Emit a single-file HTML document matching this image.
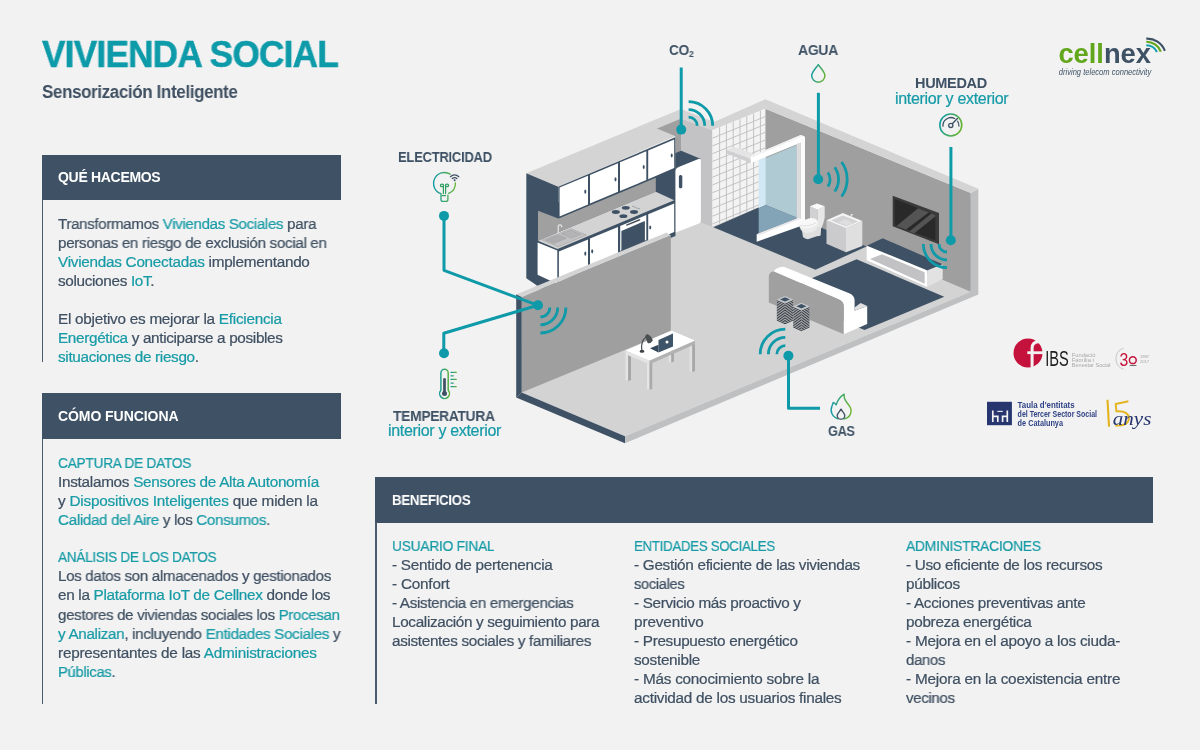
<!DOCTYPE html>
<html lang="es"><head><meta charset="utf-8"><title>Vivienda Social - Sensorización Inteligente</title>
<style>
html,body{margin:0;padding:0}
body{width:1200px;height:750px;overflow:hidden;background:#f2f2f2;position:relative;font-family:"Liberation Sans",sans-serif;color:#3f5062}
.ln{position:absolute;white-space:pre;margin:0;transform-origin:0 0;will-change:transform}
svg{will-change:transform}
.b{font-weight:700} .r{font-weight:400;-webkit-text-stroke:0.22px}
.t{color:#179ba6} .T{color:#0d9aa9;-webkit-text-stroke:0.5px} .w{color:#fff} .d2{color:#3f5265} .t2{color:#169ba7}
.sub{font-size:9.6px;position:relative;top:2.1px}
.hd{position:absolute;background:#3f5265}
.bar{position:absolute;background:#4b5b6b;width:1.7px}
</style></head><body>
<div class="hd" style="left:41.5px;top:154.5px;width:299.7px;height:45.9px"></div>
<div class="bar" style="left:41.5px;top:200px;height:161.5px"></div>
<div class="hd" style="left:41.5px;top:393.2px;width:299.7px;height:46.1px"></div>
<div class="bar" style="left:41.5px;top:439px;height:264.6px"></div>
<div class="hd" style="left:375.4px;top:476.5px;width:777.8px;height:46.3px"></div>
<div class="bar" style="left:375.4px;top:522px;height:181.5px"></div>
<svg id="art" width="1200" height="750" viewBox="0 0 1200 750" style="position:absolute;left:0;top:0">
<defs>
  <linearGradient id="gtg" x1="0" y1="0" x2="1" y2="0"><stop offset="0" stop-color="#0f9aa9"/><stop offset="1" stop-color="#6ab42d"/></linearGradient>
  <linearGradient id="gtgv" x1="0" y1="0" x2="1" y2="1"><stop offset="0" stop-color="#0f9aa9"/><stop offset="1" stop-color="#6ab42d"/></linearGradient>
  <clipPath id="tilec"><polygon points="712.3,130.3 765.3,108.7 765.3,204.5 712.3,226.5"/></clipPath>
</defs>

<!-- ===== FLOOR ===== -->
<g id="floor">
  <polygon points="521.7,392.5 625,436.3 970.8,291.7 970.8,200 765,110 670,150 521.7,300" fill="#d3d3d3"/>
  <polygon points="516.2,397.5 625,443.3 625,436.3 521.7,392.5" fill="#3f5265"/>
  <polygon points="625,436.3 625,443.3 978.3,294.4 978.3,288.6" fill="#bfc0c2"/>
</g>

<!-- ===== RIGHT BACK WALL ===== -->
<g id="rwall">
  <polygon points="765.3,108.7 970.8,193 970.8,291.7 765.3,204.5" fill="#9f9f9f"/>
  <polygon points="970.8,193 978.3,188.7 978.3,288.8 970.8,291.9" fill="#bfc0c2"/>
</g>

<!-- ===== WALL TOPS (light) ===== -->
<polygon id="walltop" fill="#d4d4d4" points="526.3,173.3 681.2,108.9 714,122 765.3,99.2 978.3,188.7 970.8,193 765.3,108.7 712.3,130.3 681.2,118.5 656.8,128.6 675.3,136.3 558.3,186.7"/>

<!-- column + kitchen inner wall -->
<polygon points="656.8,128.6 681.2,118.5 681.2,170 675.3,170 675.3,136.3" fill="#a0a0a0"/>
<polygon points="681.2,118.5 712.3,130.3 712.3,226.8 700.8,222.6 681.2,226" fill="#c3c3c5"/>

<!-- tiled wall -->
<g id="tiles">
  <polygon points="712.3,130.3 765.3,108.7 765.3,204.5 712.3,226.5" fill="#f3f3f3"/>
  <g clip-path="url(#tilec)" stroke="#c2c2c4" stroke-width="1" fill="none">
    <path d="M719.6,100V240M726.4,100V240M733.2,100V240M740.0,100V240M746.8,100V240M753.6,100V240M760.4,100V240"/>
    <g transform="translate(712.3,130.4) skewY(-22.2)">
      <path d="M0,7.8H60M0,15.6H60M0,23.4H60M0,31.2H60M0,39.0H60M0,46.8H60M0,54.6H60M0,62.4H60M0,70.2H60M0,78.0H60M0,85.8H60M0,93.6H60"/>
    </g>
  </g>
</g>

<!-- ===== KITCHEN ===== -->
<g id="kitchen">
  <!-- dark end wall -->
  <polygon points="526.3,173.3 558.3,186.7 558.3,300 526.3,278.3" fill="#3f5265"/>
  <!-- dark area behind (between uppers and fridge) -->
  <polygon points="538,210.8 675.5,153 675.5,236 538,290" fill="#3f5265"/>
  <!-- backsplash -->
  <polygon points="538,210.8 558.3,218.6 655.8,177.8 655.8,191.7 538,240.8" fill="#a0a0a0"/>
  <!-- counter -->
  <polygon points="538,240.8 557.5,249 674.2,200.2 655.8,191.7" fill="#d3d3d3"/>
  <!-- base side -->
  <polygon points="537.6,242.6 557.3,250.6 557.3,284 537.6,274.8" fill="#ffffff"/>
  <!-- base fronts -->
  <polygon points="558.9,251.6 588,239.4 588,268 558.9,282" fill="#ffffff"/>
  <polygon points="590,238.6 618,226.9 618,256 590,268" fill="#ffffff"/>
  <polygon points="620.2,226 646.3,215.1 646.3,240 620.2,251" fill="#ffffff"/>
  <polygon points="621.4,230.9 644.9,220.9 644.9,241 621.4,251.2" fill="#3f5265"/>
  <path d="M626.9,225L639.5,219.8" stroke="#d9d9d9" stroke-width="2.2" stroke-linecap="round"/>
  <path d="M626.9,225L639.5,219.8" stroke="#3c4650" stroke-width="1.3" stroke-linecap="round"/>
  <polygon points="648.2,214.3 674.2,203.4 674.2,232 648.2,243" fill="#ffffff"/>
  <!-- uppers -->
  <polygon points="558.3,186.7 675.3,137.3 675.3,167.8 558.3,218.6" fill="#3f5265"/>
  <polygon points="559.6,187.6 588,175.7 588,204.4 559.6,216.5" fill="#ffffff"/>
  <polygon points="590,174.9 618,163.2 618,191.8 590,203.6" fill="#ffffff"/>
  <polygon points="620,162.3 646.3,151.3 646.3,180 620,191" fill="#ffffff"/>
  <polygon points="648.2,150.5 674.2,139.6 674.2,168 648.2,179.2" fill="#ffffff"/>
  <g fill="#3f5265">
    <ellipse cx="585.3" cy="191.7" rx="1" ry="2.1"/><ellipse cx="615.5" cy="179.3" rx="1" ry="2.1"/>
    <ellipse cx="643.7" cy="167" rx="1" ry="2.1"/><ellipse cx="671.7" cy="155.5" rx="1" ry="2.1"/>
    <ellipse cx="585.3" cy="253.7" rx="1" ry="2.1"/><ellipse cx="592.2" cy="251.3" rx="1" ry="2.1"/>
    <ellipse cx="650.2" cy="227.5" rx="1" ry="2.1"/>
    <!-- hob -->
    <ellipse cx="615.8" cy="212" rx="4" ry="1.9"/><ellipse cx="625.8" cy="207.8" rx="4" ry="1.9"/>
    <ellipse cx="623.4" cy="216.2" rx="4" ry="1.9"/><ellipse cx="634" cy="212" rx="4" ry="1.9"/>
    <circle cx="633" cy="206.3" r=".5"/><circle cx="635" cy="207.1" r=".5"/><circle cx="637" cy="207.9" r=".5"/><circle cx="639" cy="208.7" r=".5"/>
  </g>
  <!-- sink -->
  <polygon points="542.5,240 571.3,228.8 586.3,235 558.1,246.9" fill="#c2c2c4" stroke="#9a9a9c" stroke-width=".5"/>
  <polygon points="545.6,240.1 558.6,234.9 566.4,238.2 553.6,243.6" fill="#adadaf" stroke="#98989a" stroke-width=".4"/>
  <polygon points="561.5,233.9 570.8,230.3 580.6,234.3 571.2,238.2" fill="#b4b4b6" stroke="#98989a" stroke-width=".4"/>
  <path d="M558.2,233.4V226.8Q558.2,224.7 560,224.7Q561.8,224.7 561.8,227.3" fill="none" stroke="#ececec" stroke-width="1.1"/>
  <!-- fridge -->
  <polygon points="675.6,153 681.2,150.8 701,159 675.6,170" fill="#3f5265"/>
  <path d="M675.6,171Q675.6,168.3 678,167.3L697.8,159.2Q700.9,158 700.9,161V220.8Q700.9,222.8 699,223.6L675.8,232.4Z" fill="#ffffff"/>
  <rect x="678.9" y="175" width="3.4" height="13.2" rx="1.5" fill="#3f5265"/>
</g>

<!-- ===== BATHROOM / BEDROOM ===== -->
<g id="rooms">
  <polygon points="713.3,227.3 765.3,204.5 866.5,246.5 815.5,269.7" fill="#3f5265"/>
  <polygon points="856.6,259.3 944.2,296.7 864.5,330 777,293" fill="#3f5265"/>
</g>

<!-- shower -->
<g id="shower">
  <polygon points="758.7,159.5 765.8,156.6 765.8,205 758.7,208.3" fill="#d2e9f5"/>
  <polygon points="765.8,158 796.8,145 796.8,217.6 765.8,205" fill="#afcad3"/>
  <polygon points="758.7,208.3 765.8,205 796.8,217.6 796.8,218.4 758.7,233.6" fill="#83a3b6"/>
  <!-- back bar -->
  <polygon points="726.7,150 734.2,146.7 757,155 750.8,158.9" fill="#e4e4e4"/>
  <polygon points="726.7,150 750.8,158.9 750.8,163 726.7,153.6" fill="#cfcfd1"/>
  <!-- front bar -->
  <polygon points="750.8,156.2 800.8,135 805,136.8 805,141 750.8,163" fill="#ffffff"/>
  <polygon points="750.8,156.2 800.8,135 803,135.9 752.5,157.3" fill="#f1f1f1"/>
  <!-- post -->
  <polygon points="796.7,144 800.8,142.4 800.8,221.8 796.7,219.4" fill="#dcdcdc"/>
  <polygon points="800.8,137 805,138.6 805,223.6 800.8,221.8" fill="#fbfbfb"/>
  <!-- base -->
  <polygon points="756.7,234.3 798.3,218 805,221 805,224.6 756.7,241.8" fill="#ffffff"/>
  <polygon points="756.7,234.3 798.3,218 800.4,219 758.4,235.6" fill="#e9e9e9"/>
</g>

<!-- toilet -->
<g id="toilet">
  <polygon points="810,206.3 817.7,209.8 817.7,227 810,222.5" fill="#d1d1d3"/>
  <path d="M817.7,209.8L824.7,206.3V217.5Q823.6,224 821,228.7L820.6,235.4L817.7,236.2Z" fill="#e6e6e6"/>
  <polygon points="810,206.3 817,203.4 824.7,206.3 817.7,209.8" fill="#fbfbfb"/>
  <path d="M801.8,229.5L803,237Q805,239.4 808.7,239.1L819.8,235.2L820.6,227Z" fill="#dfdfdf"/>
  <path d="M799.1,224Q799.4,231.6 806,232.9Q815,233.2 818.6,226L818,221.5Z" fill="#ebebeb"/>
  <path d="M799.1,223.6Q798.8,221.8 802,220.8L810.5,218Q814.5,217.6 817,220Q819,222.6 816,225Q809,229.6 802.5,228Q799.4,226.5 799.1,223.6Z" fill="#f8f8f8"/>
  <path d="M800.3,225.4Q808,227.4 816.4,222.6" stroke="#cdcdcd" stroke-width=".6" fill="none"/>
</g>

<!-- sink cabinet -->
<g id="sinkcab">
  <polygon points="826.5,220.2 846,228.2 846,252.2 826.5,243.8" fill="#cbcbcd"/>
  <polygon points="846,228.2 862.3,220.9 862.3,245.9 846,252.2" fill="#dfdfdf"/>
  <polygon points="826.5,220.2 842.8,212.9 862.3,220.9 846,228.2" fill="#f3f3f3"/>
  <polygon points="831,220.6 842.8,215.4 858.1,221.4 846,226.5" fill="#d2d2d4"/>
  <polygon points="838.7,222.3 844.9,219.2 853.3,222.7 846.7,225.8" fill="#dedede"/>
  <path d="M851.2,216.8V215.2Q851.6,214.2 853,214.7" stroke="#f4f4f4" stroke-width="1.1" fill="none"/>
</g>

<!-- TV -->
<g id="tv">
  <polygon points="892.7,195.7 939,213 939,244.3 892.7,226.3" fill="#3a3a3a"/>
  <polygon points="894.7,199 935.3,215 935.3,240.3 894.7,225" fill="#292929"/>
  <polygon points="918,208.3 928.7,212.4 906,229.4 896.7,226" fill="#545454"/>
  <polygon points="931.3,213.5 935.3,215 935.3,216.5 914,233.4 909.3,231.6" fill="#545454"/>
</g>

<!-- TV bench -->
<g id="bench">
  <polygon points="866.7,245.7 882.7,238.3 942.7,264.3 927.3,270.5" fill="#3f5265"/>
  <polygon points="866.7,245.7 927.3,270.5 927.3,287 866.7,260.3" fill="#ffffff"/>
  <polygon points="870,259 882,254.3 924.7,272.3 924.7,283.7" fill="#c2c2c4"/>
  <polygon points="927.3,270.5 942.7,264.3 942.7,279 927.3,287" fill="#e2e2e2"/>
</g>

<!-- bed -->
<g id="bed">
  <path d="M768.8,277Q768.8,272 773.6,271.2L839,299.4Q843.8,301.5 843.8,306.4V334.2L768.8,302.4Z" fill="#a0a0a0"/>
  <path d="M773.6,271.2Q777,267 783.8,266.8L849.8,293.4Q854.6,295.6 854.6,300.6V310.8L867.2,306V324L843.8,334.2V306.4Q843.8,301.5 839,299.4Z" fill="#ffffff"/>
  <polygon points="854.6,307.6 860.6,303 867.2,306 854.6,310.8" fill="#e0e0e0"/>
</g>

<!-- stacks -->
<g id="stacks">
  <g>
    <polygon points="776.8,299.4 785,303.2 793.1,299.4 793.1,321.2 785,324.9 776.8,321.2" fill="#d4d6d9"/>
    <path d="M776.8,300.60l8.2,3.7 8.1,-3.7M776.8,302.22l8.2,3.7 8.1,-3.7M776.8,303.84l8.2,3.7 8.1,-3.7M776.8,305.46l8.2,3.7 8.1,-3.7M776.8,307.08l8.2,3.7 8.1,-3.7M776.8,308.70l8.2,3.7 8.1,-3.7M776.8,310.32l8.2,3.7 8.1,-3.7M776.8,311.94l8.2,3.7 8.1,-3.7M776.8,313.56l8.2,3.7 8.1,-3.7M776.8,315.18l8.2,3.7 8.1,-3.7M776.8,316.80l8.2,3.7 8.1,-3.7M776.8,318.42l8.2,3.7 8.1,-3.7M776.8,320.04l8.2,3.7 8.1,-3.7" stroke="#2c3238" stroke-width=".95" fill="none"/>
    <polygon points="776.8,299.4 785,295.9 793.1,299.4 785,303" fill="#c4c8cd"/>
    <polygon points="780,299.4 785,297.2 790,299.4 785,301.6" fill="#3f5265"/>
  </g>
  <g transform="translate(16.4,6.9)">
    <polygon points="776.8,299.4 785,303.2 793.1,299.4 793.1,321.2 785,324.9 776.8,321.2" fill="#d4d6d9"/>
    <path d="M776.8,300.60l8.2,3.7 8.1,-3.7M776.8,302.22l8.2,3.7 8.1,-3.7M776.8,303.84l8.2,3.7 8.1,-3.7M776.8,305.46l8.2,3.7 8.1,-3.7M776.8,307.08l8.2,3.7 8.1,-3.7M776.8,308.70l8.2,3.7 8.1,-3.7M776.8,310.32l8.2,3.7 8.1,-3.7M776.8,311.94l8.2,3.7 8.1,-3.7M776.8,313.56l8.2,3.7 8.1,-3.7M776.8,315.18l8.2,3.7 8.1,-3.7M776.8,316.80l8.2,3.7 8.1,-3.7M776.8,318.42l8.2,3.7 8.1,-3.7M776.8,320.04l8.2,3.7 8.1,-3.7" stroke="#2c3238" stroke-width=".95" fill="none"/>
    <polygon points="776.8,299.4 785,295.9 793.1,299.4 785,303" fill="#c4c8cd"/>
    <polygon points="780,299.4 785,297.2 790,299.4 785,301.6" fill="#3f5265"/>
  </g>
</g>

<!-- ===== PARTITION WALL ===== -->
<g id="pwall">
  <polygon points="521.7,296.9 670.8,235.4 670.8,331 521.7,392.5" fill="#9f9f9f"/>
  <polygon points="516.7,294.2 666.7,232.4 670.8,235.4 521.7,296.9" fill="#d4d4d4"/>
  <polygon points="516.2,294.2 521.7,296.9 521.7,392.5 516.2,397.5" fill="#3f5265"/>
</g>

<!-- table -->
<g id="table">
  <polygon points="668.5,336 671.2,337.2 671.2,362.5 668.5,361.8" fill="#e2e2e2"/><polygon points="671.2,337.2 674,336 674,361.6 671.2,362.5" fill="#a9a9a9"/>
  <polygon points="625.5,352 628.1,353 628.1,381 625.5,380" fill="#e3e3e3"/><polygon points="628.1,353 631,352 631,380 628.1,381" fill="#a6a6a6"/>
  <polygon points="689.5,342 692.2,343 692.2,372.2 689.5,371.2" fill="#e0e0e0"/><polygon points="692.2,343 695,341.6 695,371 692.2,372.2" fill="#a8a8a8"/>
  <polygon points="647,361 649.5,362 649.5,390 647,389" fill="#e5e5e5"/><polygon points="649.5,362 652.2,361 652.2,389 649.5,390" fill="#aaaaaa"/>
  <polygon points="625.5,350.5 649.5,360.5 649.5,364.2 625.5,354.2" fill="#e4e4e4"/>
  <polygon points="649.5,360.5 695,340.5 695,344.2 649.5,364.2" fill="#b2b2b2"/>
  <polygon points="625.5,350.5 671.5,330.5 695,340.5 649.5,360.5" fill="#ffffff"/>
  <!-- laptop -->
  <polygon points="650,348.3 658.5,344.8 658.5,352.5" fill="#34485b"/>
  <polygon points="658.5,340 673,333.5 673,346.5 658.5,352.5" fill="#3e5468"/>
  <circle cx="667" cy="342" r="1.5" fill="#ffffff"/>
  <!-- lamp -->
  <ellipse cx="642" cy="351.3" rx="2.4" ry="1.5" fill="#3c4144"/>
  <path d="M641.8,350.5Q640.6,340 646.5,337" stroke="#4a4f52" stroke-width="1.2" fill="none"/>
  <path d="M645,336L647.2,334Q652,336 652.8,340.5Q650,344.5 647.5,342.8Z" fill="#4a4f52"/>
</g>

<!-- ===== SENSORS ===== -->
<g id="sensors" stroke="#0e9aa8" fill="none" stroke-width="3" stroke-linejoin="round">
  <!-- CO2 -->
  <path d="M681.2,67.5V129.6"/>
  <g stroke-width="2.8"><path d="M688.6,117.1A8.6,8.6 0 0 1 697.2,125.7"/><path d="M688.6,109.6A16.1,16.1 0 0 1 704.7,125.7"/><path d="M688.6,101.6A24.1,24.1 0 0 1 712.7,125.7"/></g>
  <!-- AGUA -->
  <path d="M818.4,92.8V179.2"/>
  <g stroke-width="2.8"><path d="M827.8,172.5A12,12 0 0 1 827.8,186.5"/><path d="M834.7,167.3A21,21 0 0 1 834.7,191.5"/><path d="M841.6,162A29.5,29.5 0 0 1 841.6,196.5"/></g>
  <!-- HUMEDAD -->
  <path d="M950.9,147V240.3"/>
  <g stroke-width="2.8"><path d="M939,244A8,8 0 0 0 947,252"/><path d="M931,244A16,16 0 0 0 947,260"/><path d="M923.3,244A23.7,23.7 0 0 0 947,267.7"/></g>
  <!-- GAS -->
  <path d="M788.5,355.8V408.3H820"/>
  <g stroke-width="2.8"><path d="M776.8,354.2A8.5,8.5 0 0 1 785.3,345.7"/><path d="M768.4,354.2A16.9,16.9 0 0 1 785.3,337.3"/><path d="M760.2,354.2A25.1,25.1 0 0 1 785.3,329.1"/></g>
  <!-- ELEC / TEMP -->
  <path d="M444,216V270.3L538,305.3L443.8,333.3V353.3"/>
  <g stroke-width="2.8"><path d="M549.8,307.5A9.4,9.4 0 0 1 540.4,316.9"/><path d="M557.7,307.5A17.3,17.3 0 0 1 540.4,324.8"/><path d="M565.9,307.5A25.5,25.5 0 0 1 540.4,333"/></g>
  <g fill="#0e9aa8" stroke="none">
    <circle cx="681.2" cy="129.6" r="5"/><circle cx="818.2" cy="179.2" r="5"/><circle cx="950.8" cy="240.3" r="5"/>
    <circle cx="788.4" cy="355.8" r="5"/><circle cx="538" cy="305.3" r="5"/><circle cx="444" cy="215.9" r="5"/><circle cx="444" cy="353.3" r="5"/>
  </g>
</g>
</svg>

<svg id="icons" width="1200" height="750" viewBox="0 0 1200 750" style="position:absolute;left:0;top:0">
<defs>
  <linearGradient id="g1" gradientUnits="userSpaceOnUse" x1="433" y1="0" x2="457" y2="0"><stop offset="0" stop-color="#0f9aa9"/><stop offset="1" stop-color="#6ab42d"/></linearGradient>
  <linearGradient id="g2" gradientUnits="userSpaceOnUse" x1="438" y1="0" x2="451" y2="0"><stop offset="0" stop-color="#0f9aa9"/><stop offset="1" stop-color="#6ab42d"/></linearGradient>
  <linearGradient id="g2t" gradientUnits="userSpaceOnUse" x1="450" y1="0" x2="457" y2="0"><stop offset="0" stop-color="#0f9aa9"/><stop offset="1" stop-color="#6ab42d"/></linearGradient>
  <linearGradient id="g3" gradientUnits="userSpaceOnUse" x1="811" y1="72" x2="826" y2="76"><stop offset="0" stop-color="#0f9aa9"/><stop offset="1" stop-color="#6ab42d"/></linearGradient>
  <linearGradient id="g4" gradientUnits="userSpaceOnUse" x1="939" y1="120" x2="962" y2="128"><stop offset="0" stop-color="#0f9aa9"/><stop offset="1" stop-color="#6ab42d"/></linearGradient>
  <linearGradient id="g5" gradientUnits="userSpaceOnUse" x1="831" y1="0" x2="851" y2="0"><stop offset="0" stop-color="#0f9aa9"/><stop offset="1" stop-color="#6ab42d"/></linearGradient>
</defs>
<!-- bulb -->
<g fill="none" stroke-linecap="round" stroke-linejoin="round">
  <path d="M450.22,174.12A10.9,10.9 0 1 0 441,193.72V199.4Q441,201.4 443,201.4H445.9Q447.9,201.4 447.9,199.4V195.2" stroke="url(#g1)" stroke-width="1.35"/>
  <path d="M455.39,182.9A10.9,10.9 0 0 1 448.7,193.46" stroke="url(#g1)" stroke-width="1.35"/>
  <path d="M442.2,195.6H445.6" stroke="#2f9f60" stroke-width="1.1"/>
  <path d="M443.4,193.6V185.6M445.6,193.6V185.6" stroke="#2f9f60" stroke-width="1.2"/>
  <ellipse cx="442" cy="185.4" rx="1.6" ry="1.3" stroke="#2f9f60" stroke-width="1.2"/><ellipse cx="447" cy="185.4" rx="1.6" ry="1.3" stroke="#2f9f60" stroke-width="1.2"/>
  <path d="M452.3,178.5A3.2,3.2 0 0 1 456.9,178.5M450.4,176.7A5.9,5.9 0 0 1 458.8,176.7" stroke="#3f5265" stroke-width="1.25"/>
  <circle cx="454.6" cy="180.3" r="1" fill="#3f5265"/>
</g>
<!-- thermometer -->
<g fill="none" stroke-linecap="round">
  <path d="M440.9,390.33V372.9A3.65,3.65 0 0 1 448.2,372.9V390.33A4.9,4.9 0 1 1 440.9,390.33Z" stroke="url(#g2)" stroke-width="1.5"/>
  <path d="M444.5,379.3V393.3" stroke="#3f5265" stroke-width="2.7"/>
  <circle cx="444.5" cy="393.4" r="2.5" fill="#3f5265"/>
  <path d="M451,372.4H456.3M451,375.8H453.3M451,379.4H456.3M451,383H453.3M451,386.5H456.3" stroke="url(#g2t)" stroke-width="1.25"/>
</g>
<!-- drop -->
<path d="M818.3,64.6C816.2,67.8 811.7,72.2 811.7,75.6A6.6,6.6 0 0 0 824.9,75.6C824.9,72.2 820.4,67.8 818.3,64.6Z" fill="none" stroke="url(#g3)" stroke-width="1.5" stroke-linejoin="round"/>
<!-- gauge -->
<g fill="none" stroke-linecap="round">
  <circle cx="950.8" cy="125" r="10.95" stroke="url(#g4)" stroke-width="1.6"/>
  <path d="M942.95,126.2A8,8 0 0 1 954.66,118.54M957.61,121.24A8,8 0 0 1 958.89,126" stroke="#3f5265" stroke-width="1.3"/>
  <circle cx="950.8" cy="125.4" r="2.1" stroke="#3f5265" stroke-width="1.3"/>
  <path d="M952.3,123.8L957.4,118.5" stroke="#3f5265" stroke-width="1.4"/>
</g>
<!-- flame -->
<g fill="none" stroke-linejoin="round">
  <path d="M838.5,419C832,417.5 829.8,411 832,406C832.6,404.3 833.2,403 833.2,402.4C834.6,403 835.6,403.8 836.2,404.8C837.5,400.5 840.5,396.5 844.2,394.2C843.6,398 844.8,400 847,402.8C850,406.5 852,409 850.8,413C849.8,416.5 846.5,418.6 843.4,419" stroke="url(#g5)" stroke-width="1.4"/>
  <path d="M841,409.2C840,411 837.2,413.6 837.2,415.4A3.8,3.8 0 0 0 844.8,415.4C844.8,413.6 842,411 841,409.2Z" stroke="#3f5265" stroke-width="1.35"/>
</g>

<!-- cellnex -->
<g>
  <text x="1058.4" y="63.2" font-family="Liberation Sans, sans-serif" font-weight="700" font-size="27.5" textLength="92.6" lengthAdjust="spacingAndGlyphs"><tspan fill="#62a61c">cell</tspan><tspan fill="#3f5265">nex</tspan></text>
  <text x="1058.8" y="74.6" font-family="Liberation Sans, sans-serif" font-style="italic" font-size="8.6" fill="#3f5265" textLength="92.4" lengthAdjust="spacingAndGlyphs">driving telecom connectivity</text>
  <g fill="none" stroke-width="2.1">
    <path d="M1146.3,38.6A18.8,18.8 0 0 1 1164.8,50.8" stroke="#3f5265"/>
    <path d="M1146.3,41.8A15.4,15.4 0 0 1 1160.8,51.7" stroke="#62a61c"/>
    <path d="M1146.3,45.2A12,12 0 0 1 1157,52" stroke="#16a0ae"/>
  </g>
</g>
<!-- FIBS -->
<g>
  <circle cx="1028" cy="353" r="14.5" fill="#c5123c"/>
  <path d="M1032.1,367.8V348Q1032.2,342.4 1038,341.8L1040,341.2" fill="none" stroke="#f2f2f2" stroke-width="3"/>
  <path d="M1027.3,352.7H1043" stroke="#f2f2f2" stroke-width="2.8"/>
  <text x="1045.2" y="366.4" font-family="Liberation Sans, sans-serif" font-size="22" fill="#1d1d1d" textLength="23.6" lengthAdjust="spacingAndGlyphs">IBS</text>
  <g font-family="Liberation Sans, sans-serif" font-size="5.1" fill="#a8a8a8">
    <text x="1071.8" y="356.5" textLength="23.6" lengthAdjust="spacingAndGlyphs">Fundació</text>
    <text x="1071.8" y="361.8" textLength="22" lengthAdjust="spacingAndGlyphs">Família i</text>
    <text x="1071.8" y="367.1" textLength="38.8" lengthAdjust="spacingAndGlyphs">Benestar Social</text>
  </g>
  <path d="M1123.5,348.3A11,11 0 0 0 1123.5,369.2" fill="none" stroke="#b5b5b5" stroke-width=".7"/>
  <text x="1119.6" y="365.6" font-family="Liberation Sans, sans-serif" font-size="18.6" fill="#c5123c" textLength="8.8" lengthAdjust="spacingAndGlyphs">3</text>
  <circle cx="1132.8" cy="360.2" r="3.4" fill="none" stroke="#c5123c" stroke-width="1.5"/>
  <g font-family="Liberation Sans, sans-serif" font-size="4.1" fill="#a2a2a2"><text x="1140" y="358.3" textLength="9" lengthAdjust="spacingAndGlyphs">1987</text><text x="1140" y="363.1" textLength="9" lengthAdjust="spacingAndGlyphs">2017</text></g>
  <rect x="1129.8" y="365.1" width="6.6" height=".9" fill="#333" opacity=".8"/>
</g>
<!-- Taula -->
<g>
  <rect x="987" y="401.8" width="24.9" height="23.4" fill="#27366f"/>
  <path d="M992.8,410.6V422M1007.3,410.6V422M992.8,416.4H998.7M1001.7,416.4H1007.3M997.8,415.6V422M1002.6,415.6V422" stroke="#f2f2f2" stroke-width="1.7" fill="none"/>
  <path d="M997.3,411.4H1002.8" stroke="#f2f2f2" stroke-width="1.1"/>
  <g font-family="Liberation Sans, sans-serif" font-weight="700" font-size="8.3" fill="#2f4286">
    <text x="1017.6" y="407.5" textLength="57" lengthAdjust="spacingAndGlyphs">Taula d'entitats</text>
    <text x="1017.6" y="416.8" textLength="79.4" lengthAdjust="spacingAndGlyphs">del Tercer Sector Social</text>
    <text x="1017.6" y="425.9" textLength="45.4" lengthAdjust="spacingAndGlyphs">de Catalunya</text>
  </g>
  <path d="M1107.5,399.8L1109,426.7" stroke="#e4b41f" stroke-width="2.1"/>
  <path d="M1128.4,401.3L1115.7,404L1116.4,411.3Q1128.4,410.6 1128.9,418Q1128.6,426.4 1115.3,425.6" fill="none" stroke="#e4b41f" stroke-width="1.9" stroke-linejoin="round"/>
  <text x="1112.8" y="425" font-family="Liberation Serif, serif" font-style="italic" font-size="18.5" fill="#27366f" textLength="38.6" lengthAdjust="spacingAndGlyphs">anys</text>
</g>
</svg>

<div class='ln b' style='left:42.0px;top:33.12px;font-size:36.6px;line-height:44px;letter-spacing:-0.805px;transform:scaleX(0.962)'><span class='T'>VIVIENDA SOCIAL</span></div>
<div class='ln b' style='left:42.0px;top:81.94px;font-size:17.5px;line-height:21px;letter-spacing:-0.385px;transform:scaleX(0.9707)'>Sensorización Inteligente</div>
<div class='ln b' style='left:58.2px;top:168.45px;font-size:14px;line-height:19px;letter-spacing:-0.308px;transform:scaleX(0.996)'><span class='w'>QUÉ HACEMOS</span></div>
<div class='ln r' style='left:58.2px;top:214.05px;font-size:15.3px;line-height:19px;letter-spacing:-0.337px;transform:scaleX(0.9873)'>Transformamos <span class='t'>Viviendas Sociales</span> para</div>
<div class='ln r' style='left:58.2px;top:233.10px;font-size:15.3px;line-height:19px;letter-spacing:-0.337px;transform:scaleX(0.994)'>personas en riesgo de exclusión social en</div>
<div class='ln r' style='left:58.2px;top:252.15px;font-size:15.3px;line-height:19px;letter-spacing:-0.27px'><span class='t'>Viviendas Conectadas</span> implementando</div>
<div class='ln r' style='left:58.2px;top:271.20px;font-size:15.3px;line-height:19px;letter-spacing:-0.332px'>soluciones <span class='t'>IoT</span>.</div>
<div class='ln r' style='left:58.2px;top:309.30px;font-size:15.3px;line-height:19px;letter-spacing:-0.257px'>El objetivo es mejorar la <span class='t'>Eficiencia</span></div>
<div class='ln r' style='left:58.2px;top:328.35px;font-size:15.3px;line-height:19px;letter-spacing:-0.337px'><span class='t'>Energética</span> y anticiparse a posibles</div>
<div class='ln r' style='left:58.2px;top:347.40px;font-size:15.3px;line-height:19px;letter-spacing:-0.33px'><span class='t'>situaciones de riesgo</span>.</div>
<div class='ln b' style='left:58.2px;top:407.15px;font-size:14px;line-height:19px;letter-spacing:-0.064px'><span class='w'>CÓMO FUNCIONA</span></div>
<div class='ln r' style='left:58.2px;top:452.55px;font-size:15.3px;line-height:19px;letter-spacing:-0.337px;transform:scaleX(0.8999)'><span class='t'>CAPTURA DE DATOS</span></div>
<div class='ln r' style='left:58.2px;top:471.60px;font-size:15.3px;line-height:19px;letter-spacing:-0.277px'>Instalamos <span class='t'>Sensores de Alta Autonomía</span></div>
<div class='ln r' style='left:58.2px;top:490.65px;font-size:15.3px;line-height:19px;letter-spacing:-0.201px'>y <span class='t'>Dispositivos Inteligentes</span> que miden la</div>
<div class='ln r' style='left:58.2px;top:509.70px;font-size:15.3px;line-height:19px;letter-spacing:-0.337px;transform:scaleX(0.9921)'><span class='t'>Calidad del Aire</span> y los <span class='t'>Consumos</span>.</div>
<div class='ln r' style='left:58.2px;top:547.35px;font-size:15.3px;line-height:19px;letter-spacing:-0.337px;transform:scaleX(0.8908)'><span class='t'>ANÁLISIS DE LOS DATOS</span></div>
<div class='ln r' style='left:58.2px;top:566.40px;font-size:15.3px;line-height:19px;letter-spacing:-0.337px;transform:scaleX(0.9891)'>Los datos son almacenados y gestionados</div>
<div class='ln r' style='left:58.2px;top:585.45px;font-size:15.3px;line-height:19px;letter-spacing:-0.302px'>en la <span class='t'>Plataforma IoT de Cellnex</span> donde los</div>
<div class='ln r' style='left:58.2px;top:604.55px;font-size:15.3px;line-height:19px;letter-spacing:-0.337px;transform:scaleX(0.9861)'>gestores de viviendas sociales los <span class='t'>Procesan</span></div>
<div class='ln r' style='left:58.2px;top:623.60px;font-size:15.3px;line-height:19px;letter-spacing:-0.337px;transform:scaleX(0.9973)'><span class='t'>y Analizan</span>, incluyendo <span class='t'>Entidades Sociales</span> y</div>
<div class='ln r' style='left:58.2px;top:642.65px;font-size:15.3px;line-height:19px;letter-spacing:-0.218px'>representantes de las <span class='t'>Administraciones</span></div>
<div class='ln r' style='left:58.2px;top:661.70px;font-size:15.3px;line-height:19px;letter-spacing:-0.337px;transform:scaleX(0.9687)'><span class='t'>Públicas</span>.</div>
<div class='ln b' style='left:391.7px;top:490.55px;font-size:14px;line-height:19px;letter-spacing:-0.308px;transform:scaleX(0.9503)'><span class='w'>BENEFICIOS</span></div>
<div class='ln r' style='left:391.7px;top:535.75px;font-size:15.3px;line-height:19px;letter-spacing:-0.337px;transform:scaleX(0.9068)'><span class='t'>USUARIO FINAL</span></div>
<div class='ln r' style='left:391.7px;top:554.75px;font-size:15.3px;line-height:19px;letter-spacing:-0.254px'>- Sentido de pertenencia</div>
<div class='ln r' style='left:391.7px;top:573.75px;font-size:15.3px;line-height:19px;letter-spacing:-0.213px'>- Confort</div>
<div class='ln r' style='left:391.7px;top:592.75px;font-size:15.3px;line-height:19px;letter-spacing:-0.337px;transform:scaleX(0.9955)'>- Asistencia en emergencias</div>
<div class='ln r' style='left:391.7px;top:611.70px;font-size:15.3px;line-height:19px;letter-spacing:-0.335px'>Localización y seguimiento para</div>
<div class='ln r' style='left:391.7px;top:630.70px;font-size:15.3px;line-height:19px;letter-spacing:-0.337px;transform:scaleX(0.9989)'>asistentes sociales y familiares</div>
<div class='ln r' style='left:634.4px;top:535.95px;font-size:15.3px;line-height:19px;letter-spacing:-0.337px;transform:scaleX(0.8678)'><span class='t'>ENTIDADES SOCIALES</span></div>
<div class='ln r' style='left:634.4px;top:555.05px;font-size:15.3px;line-height:19px;letter-spacing:-0.289px'>- Gestión eficiente de las viviendas</div>
<div class='ln r' style='left:634.4px;top:574.05px;font-size:15.3px;line-height:19px;letter-spacing:-0.337px;transform:scaleX(0.9587)'>sociales</div>
<div class='ln r' style='left:634.4px;top:593.05px;font-size:15.3px;line-height:19px;letter-spacing:-0.324px'>- Servicio más proactivo y</div>
<div class='ln r' style='left:634.4px;top:612.05px;font-size:15.3px;line-height:19px;letter-spacing:-0.098px'>preventivo</div>
<div class='ln r' style='left:634.4px;top:630.95px;font-size:15.3px;line-height:19px;letter-spacing:-0.305px'>- Presupuesto energético</div>
<div class='ln r' style='left:634.4px;top:649.95px;font-size:15.3px;line-height:19px;letter-spacing:-0.289px'>sostenible</div>
<div class='ln r' style='left:634.4px;top:668.85px;font-size:15.3px;line-height:19px;letter-spacing:-0.226px'>- Más conocimiento sobre la</div>
<div class='ln r' style='left:634.4px;top:687.75px;font-size:15.3px;line-height:19px;letter-spacing:-0.257px'>actividad de los usuarios finales</div>
<div class='ln r' style='left:905.6px;top:535.95px;font-size:15.3px;line-height:19px;letter-spacing:-0.337px;transform:scaleX(0.9133)'><span class='t'>ADMINISTRACIONES</span></div>
<div class='ln r' style='left:905.6px;top:555.05px;font-size:15.3px;line-height:19px;letter-spacing:-0.305px'>- Uso eficiente de los recursos</div>
<div class='ln r' style='left:905.6px;top:574.05px;font-size:15.3px;line-height:19px;letter-spacing:-0.266px'>públicos</div>
<div class='ln r' style='left:905.6px;top:593.05px;font-size:15.3px;line-height:19px;letter-spacing:-0.281px'>- Acciones preventivas ante</div>
<div class='ln r' style='left:905.6px;top:612.05px;font-size:15.3px;line-height:19px;letter-spacing:-0.304px'>pobreza energética</div>
<div class='ln r' style='left:905.6px;top:630.95px;font-size:15.3px;line-height:19px;letter-spacing:-0.234px'>- Mejora en el apoyo a los ciuda-</div>
<div class='ln r' style='left:905.6px;top:649.95px;font-size:15.3px;line-height:19px;letter-spacing:-0.337px;transform:scaleX(0.9774)'>danos</div>
<div class='ln r' style='left:905.6px;top:668.85px;font-size:15.3px;line-height:19px;letter-spacing:-0.208px'>- Mejora en la coexistencia entre</div>
<div class='ln r' style='left:905.6px;top:687.75px;font-size:15.3px;line-height:19px;letter-spacing:-0.337px;transform:scaleX(0.9835)'>vecinos</div>
<div class='ln b' style='left:398.2px;top:147.68px;font-size:14.5px;line-height:19px;letter-spacing:-0.319px;transform:scaleX(0.9008)'><span class='d2'>ELECTRICIDAD</span></div>
<div class='ln b' style='left:393.3px;top:406.98px;font-size:14.5px;line-height:19px;letter-spacing:-0.319px;transform:scaleX(0.9542)'><span class='d2'>TEMPERATURA</span></div>
<div class='ln r' style='left:387.7px;top:420.86px;font-size:16px;line-height:19px;letter-spacing:-0.324px'><span class='t2'>interior y exterior</span></div>
<div class='ln b' style='left:669.0px;top:41.08px;font-size:14.5px;line-height:19px;letter-spacing:-0.319px;transform:scaleX(0.9374)'><span class='d2'>CO</span><span class='d2 sub'>2</span></div>
<div class='ln b' style='left:798.2px;top:41.08px;font-size:14.5px;line-height:19px;letter-spacing:-0.319px;transform:scaleX(0.9656)'><span class='d2'>AGUA</span></div>
<div class='ln b' style='left:915.2px;top:74.38px;font-size:14.5px;line-height:19px;letter-spacing:-0.319px;transform:scaleX(0.9948)'><span class='d2'>HUMEDAD</span></div>
<div class='ln r' style='left:894.6px;top:88.66px;font-size:16px;line-height:19px;letter-spacing:-0.308px'><span class='t2'>interior y exterior</span></div>
<div class='ln b' style='left:827.8px;top:421.68px;font-size:14.5px;line-height:19px;letter-spacing:-0.319px;transform:scaleX(0.8764)'><span class='d2'>GAS</span></div>
</body></html>
